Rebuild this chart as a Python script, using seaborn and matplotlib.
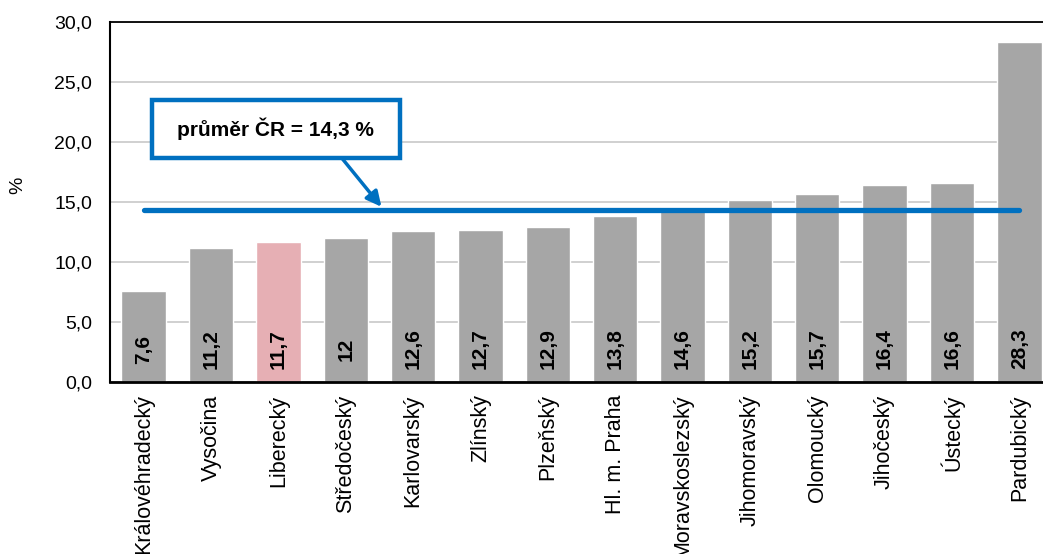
import matplotlib
matplotlib.use("Agg")
import matplotlib.pyplot as plt
from matplotlib.patches import Rectangle
import seaborn as sns
import pandas as pd

# data
regiony = ['Královéhradecký', 'Vysočina', 'Liberecký', 'Středočeský', 'Karlovarský',
           'Zlínský', 'Plzeňský', 'Hl. m. Praha', 'Moravskoslezský', 'Jihomoravský',
           'Olomoucký', 'Jihočeský', 'Ústecký', 'Pardubický']
hodnoty = [7.6, 11.2, 11.7, 12.0, 12.6, 12.7, 12.9, 13.8, 14.6, 15.2, 15.7, 16.4, 16.6, 28.3]
popisky = ['7,6', '11,2', '11,7', '12', '12,6', '12,7', '12,9', '13,8', '14,6', '15,2',
           '15,7', '16,4', '16,6', '28,3']
prumer_cr = 14.3
zvyrazneny = 'Liberecký'

df = pd.DataFrame({'region': regiony, 'hodnota': hodnoty})

sns.set_style("white")
plt.rcParams['font.family'] = ['Liberation Sans', 'DejaVu Sans']
plt.rcParams['text.color'] = 'black'
plt.rcParams['xtick.color'] = 'black'
plt.rcParams['ytick.color'] = 'black'

fig = plt.figure(figsize=(10.43, 5.54), dpi=100)
ax = fig.add_axes([110 / 1043, 1 - 382 / 554, 943 / 1043, 360 / 554])

barvy = {r: ('#E6AFB4' if r == zvyrazneny else '#A6A6A6') for r in regiony}
sns.barplot(data=df, x='region', y='hodnota', hue='region', palette=barvy,
            legend=False, width=0.66, saturation=1, ax=ax, zorder=2)

# popisky hodnot uvnitř sloupců
for i, txt in enumerate(popisky):
    ax.text(i, 2.75, txt, rotation=90, ha='center', va='center',
            fontsize=15, fontweight='bold', color='black', zorder=4)

# průměr ČR
ax.plot([0, len(regiony) - 1], [prumer_cr, prumer_cr], color='#0070C0',
        lw=3.8, solid_capstyle='round', zorder=3)

# rámeček s popiskem a šipkou
ax.add_patch(Rectangle((0.118, 18.67), 3.68, 4.83, fc='white', ec='#0070C0',
                       lw=3.2, zorder=5))
ax.text(1.96, 21.1, 'průměr ČR = 14,3 %', ha='center', va='center',
        fontsize=15, fontweight='bold', zorder=6)
ax.annotate('', xy=(3.53, 14.6), xytext=(2.94, 18.67),
            arrowprops=dict(arrowstyle='-|>,head_length=0.9,head_width=0.45',
                            color='#0070C0', lw=2.5, shrinkA=0, shrinkB=0),
            zorder=5)

ax.set_ylim(0, 30)
ax.set_xlim(-0.5, len(regiony) - 0.5)
ax.set_yticks([0, 5, 10, 15, 20, 25, 30])
ax.set_yticklabels(['0,0', '5,0', '10,0', '15,0', '20,0', '25,0', '30,0'], fontsize=14)
ax.grid(axis='y', color='#C8C8C8', lw=1.2, zorder=0)
ax.set_axisbelow(True)
ax.tick_params(axis='y', length=0, pad=13)
ax.tick_params(axis='x', length=0, pad=9)
ax.set_xticks(range(len(regiony)))
ax.set_xticklabels(regiony, rotation=90, fontsize=15.5, va='top')
ax.set_xlabel('')
ax.set_ylabel('')
fig.text(18 / 1043, 1 - 185 / 554, '%', rotation=90, ha='center', va='center',
         fontsize=14)

for s in ['top', 'left', 'bottom']:
    ax.spines[s].set_visible(True)
    ax.spines[s].set_color('black')
ax.spines['right'].set_visible(False)
ax.spines['top'].set_linewidth(1.3)
ax.spines['left'].set_linewidth(1.5)
ax.spines['bottom'].set_linewidth(2)

fig.savefig('out.png', dpi=100)
